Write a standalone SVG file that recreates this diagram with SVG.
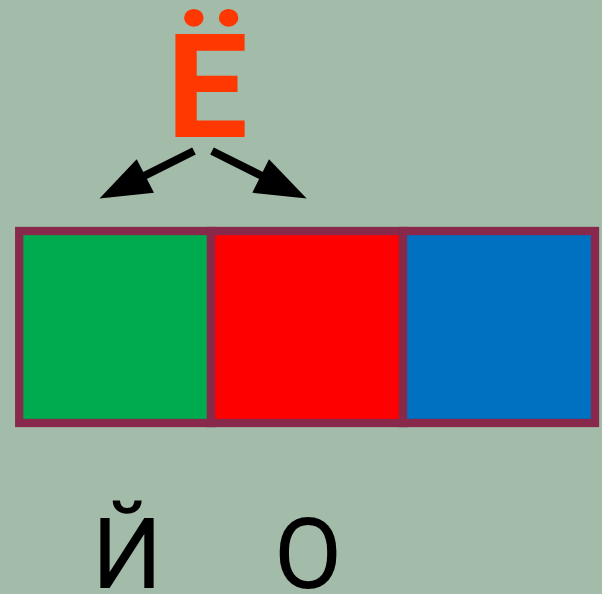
<svg xmlns="http://www.w3.org/2000/svg" width="602" height="594" viewBox="0 0 602 594">
<style>
.cell{stroke:#88284A;stroke-width:8.3}
.lbl{font-family:Roboto,"Liberation Sans",sans-serif;fill:#000}
.arr{stroke:#000;stroke-width:8}
</style>
<rect width="602" height="594" fill="#A3BBA9"/>
<g id="title"><text x="207" y="136.7" text-anchor="middle" font-family="Roboto,'Liberation Sans',sans-serif" font-weight="bold" font-size="145" fill="#FF3700">Ё</text></g>
<g id="connectors">
<line class="arr" x1="194" y1="151" x2="140" y2="178"/>
<polygon points="99.5,198.5 136.7,159.3 154,192.7" fill="#000"/>
<line class="arr" x1="212" y1="151" x2="266" y2="178"/>
<polygon points="306.7,198.5 269,159.3 252.3,192.7" fill="#000"/>
</g>
<g id="cell-green"><rect class="cell" x="19.2" y="231" width="191.8" height="192" fill="#00AA4E"/></g>
<g id="cell-red"><rect class="cell" x="211" y="231" width="192" height="192" fill="#FF0000"/></g>
<g id="cell-blue"><rect class="cell" x="403" y="231" width="192" height="192" fill="#0070C0"/></g>
<g id="label-j"><text class="lbl" x="127" y="587.5" text-anchor="middle" font-size="99">Й</text></g>
<g id="label-o"><text class="lbl" x="308" y="587.5" text-anchor="middle" font-size="99">О</text></g>
</svg>
